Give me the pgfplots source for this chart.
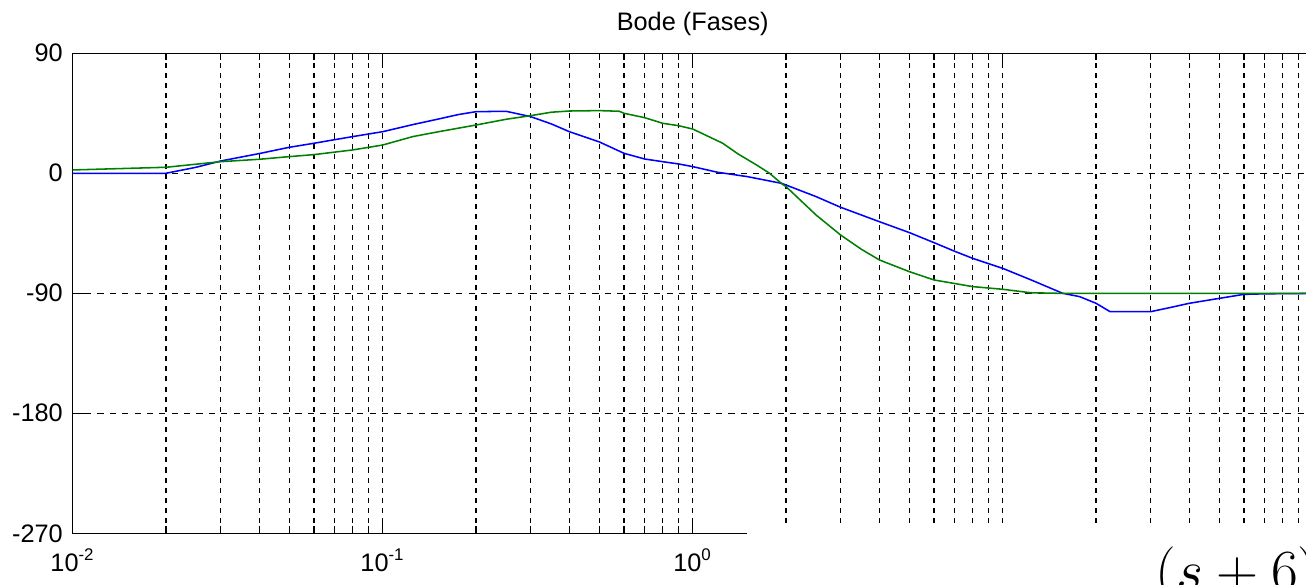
\documentclass[border=0pt]{standalone}
\usepackage{fontspec}
\setmainfont{Liberation Sans}
\usepackage{pgfplots}
\pgfplotsset{compat=1.18}
\usetikzlibrary{calc}
\definecolor{mblue}{RGB}{0,0,255}
\definecolor{mgreen}{RGB}{0,128,0}

\begin{document}
\begin{tikzpicture}
\begin{axis}[
  xmode=log, log basis x=10,
  scale only axis,
  width=15.5cm, height=6cm,
  xmin=0.01, xmax=100,
  ymin=-270, ymax=90,
  xtick={0.01,0.1,1,10,100},
  minor xtick={0.02,0.03,0.04,0.05,0.06,0.07,0.08,0.09,
               0.2,0.3,0.4,0.5,0.6,0.7,0.8,0.9,
               2,3,4,5,6,7,8,9,
               20,30,40,50,60,70,80,90},
  xticklabels={10\textsuperscript{-2},10\textsuperscript{-1},10\textsuperscript{0},10\textsuperscript{1},10\textsuperscript{2}},
  ytick={-270,-180,-90,0,90},
  yticklabels={-270,-180,-90,0,90},
  ytick pos=left,
  tick align=inside,
  major tick length=4.4pt,
  minor tick length=2.5pt,
  xmajorgrids, xminorgrids, ymajorgrids,
  major x grid style={black, line width=0.5pt, dash pattern=on 1.8pt off 1.8pt},
  minor x grid style={black, line width=0.5pt, dash pattern=on 1.8pt off 1.8pt},
  major y grid style={black, line width=0.5pt, dash pattern=on 2.2pt off 2.2pt},
  axis line style={black, line width=0.5pt},
  tick style={black, line width=0.5pt, solid},
  every tick label/.append style={font=\fontsize{9}{11}\selectfont},
  xticklabel style={yshift=-2pt},
  title={Bode (Fases)},
  every axis title/.style={font=\fontsize{9}{11}\selectfont, at={(0.5,1)}, anchor=base, yshift=8pt},
]
% blue phase curve
\addplot[mblue, line width=0.55pt] coordinates {
  (0.01,0) (0.02,0) (0.025,4.5) (0.03,9.2) (0.04,14.8) (0.05,19.5)
  (0.06,22.5) (0.07,25.2) (0.08,27.5) (0.1,31.2) (0.125,36.5) (0.15,40.5)
  (0.175,44) (0.2,46.2) (0.25,46.5) (0.3,42.5) (0.35,37) (0.4,31.2)
  (0.5,23.5) (0.6,15) (0.7,10.7) (0.8,8.7) (0.9,7) (1,5) (1.2,0.8)
  (1.5,-2.5) (1.93,-7.5) (2,-8.8) (2.5,-17.5) (3,-25.5) (4,-36.3)
  (5,-44.5) (6,-52) (7,-58.5) (8,-63.8) (10,-71.3) (12.5,-80.5)
  (15.6,-90) (17.7,-92.5) (20,-97.5) (22.2,-103.8) (30,-103.8)
  (35,-100.5) (40,-97.5) (50,-93.8) (60,-90.8) (70,-90.4) (100,-90.1)
};
% green phase curve
\addplot[mgreen, line width=0.55pt] coordinates {
  (0.01,2.5) (0.02,4.5) (0.03,8.7) (0.04,10.5) (0.05,12.5) (0.06,14)
  (0.08,17.5) (0.1,21.2) (0.125,27.5) (0.15,31) (0.2,36.2) (0.25,40.5)
  (0.3,43.2) (0.35,45.8) (0.4,46.7) (0.5,47) (0.58,46.5) (0.6,45)
  (0.7,41.7) (0.8,37.5) (0.9,35.7) (1,33.2) (1.25,22.5) (1.4,14.5)
  (1.6,6.5) (1.77,0) (1.93,-7.5) (2,-10) (2.5,-31.3) (3,-46.3)
  (3.5,-57) (4,-65) (5,-73.8) (6,-80) (8,-85) (10,-87) (12.3,-89.6)
  (15,-90) (100,-90)
};
\coordinate (sw) at (rel axis cs:0,0);
\coordinate (ne) at (rel axis cs:1,1);
\end{axis}
% pasted equation box covering the lower right
\fill[white] ($(sw)+(8.425cm,0.129cm)$) rectangle ($(sw)+(16.5cm,-1.5cm)$);
\node[anchor=base west, inner sep=0pt, font=\fontsize{20}{24}\selectfont]
  at ($(sw)+(13.53cm,-0.709cm)$) {$(s+6)$};
\pgfresetboundingbox
\path[use as bounding box] ($(sw)+(-0.909cm,-0.634cm)$) rectangle ($(ne)+(-0.084cm,0.666cm)$);
\end{tikzpicture}
\end{document}
